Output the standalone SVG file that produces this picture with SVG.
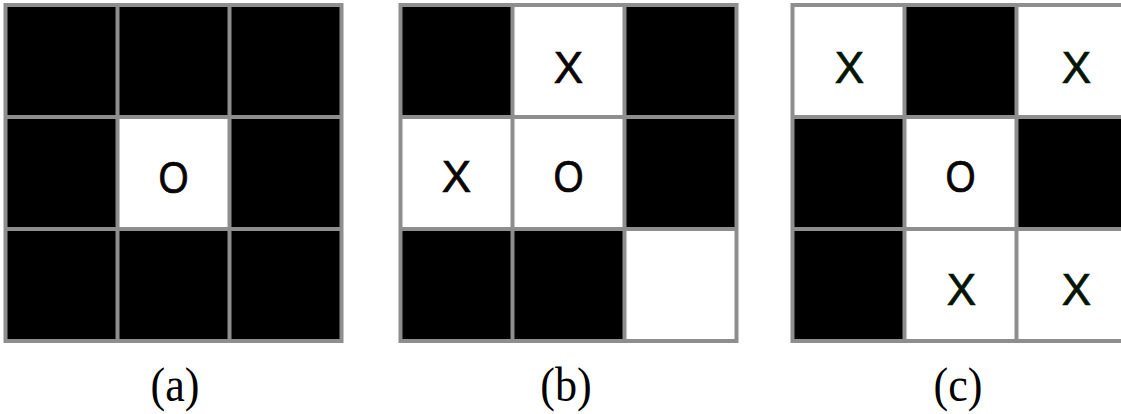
<svg xmlns="http://www.w3.org/2000/svg" width="1121" height="414" viewBox="0 0 1121 414">
<style>
.b{fill:#000}
.w{fill:#fff}
.g{fill:none;stroke:#8e8e8e;stroke-width:4}
.m{font-family:"Liberation Sans",Arial,sans-serif;font-size:44px;text-anchor:middle;fill:#0a0505;stroke:#0a0505;stroke-width:0.7}
.mx{font-family:"Liberation Sans",Arial,sans-serif;font-size:44px;text-anchor:middle;fill:#021402;stroke:#021402;stroke-width:0.7}
.cap{font-family:"Liberation Serif","Times New Roman",serif;font-size:49px;text-anchor:middle;fill:#000}
</style>
<defs>
<path id="grid" class="g" d="M0,0H336V336H0Z M112,0V336 M224,0V336 M0,112H336 M0,224H336"/>
</defs>
<rect width="1121" height="414" fill="#fff"/>
<g id="grid-a" transform="translate(5.5,5)">
<rect class="b" x="0" y="0" width="336" height="336"/>
<rect class="w" x="112" y="112" width="112" height="112"/>
<use href="#grid"/>
<text class="m" x="168" y="188" transform="translate(168,0) scale(0.88,1) translate(-168,0)">O</text>
</g>
<g id="grid-b" transform="translate(400.5,5)">
<rect class="b" x="0" y="0" width="336" height="336"/>
<rect class="w" x="112" y="0" width="112" height="112"/>
<rect class="w" x="0" y="112" width="224" height="112"/>
<rect class="w" x="224" y="224" width="112" height="112"/>
<use href="#grid"/>
<text class="m" x="168" y="78">X</text>
<text class="m" x="56" y="187">X</text>
<text class="m" x="168" y="187" transform="translate(168,0) scale(0.88,1) translate(-168,0)">O</text>
</g>
<g id="grid-c" transform="translate(792.5,5)">
<rect class="b" x="0" y="0" width="336" height="336"/>
<rect class="w" x="0" y="0" width="112" height="112"/>
<rect class="w" x="224" y="0" width="112" height="112"/>
<rect class="w" x="112" y="112" width="112" height="112"/>
<rect class="w" x="112" y="224" width="224" height="112"/>
<use href="#grid"/>
<text class="mx" x="57" y="78">X</text>
<text class="mx" x="284" y="78">X</text>
<text class="m" x="168" y="187" transform="translate(168,0) scale(0.88,1) translate(-168,0)">O</text>
<text class="mx" x="169" y="300">X</text>
<text class="mx" x="284" y="300">X</text>
</g>
<g id="labels">
<text class="cap" x="175" y="401" transform="translate(175,0) scale(0.9,1) translate(-175,0)">(a)</text>
<text class="cap" x="566" y="401" transform="translate(566,0) scale(0.9,1) translate(-566,0)">(b)</text>
<text class="cap" x="958" y="401" transform="translate(958,0) scale(0.9,1) translate(-958,0)">(c)</text>
</g>
</svg>
